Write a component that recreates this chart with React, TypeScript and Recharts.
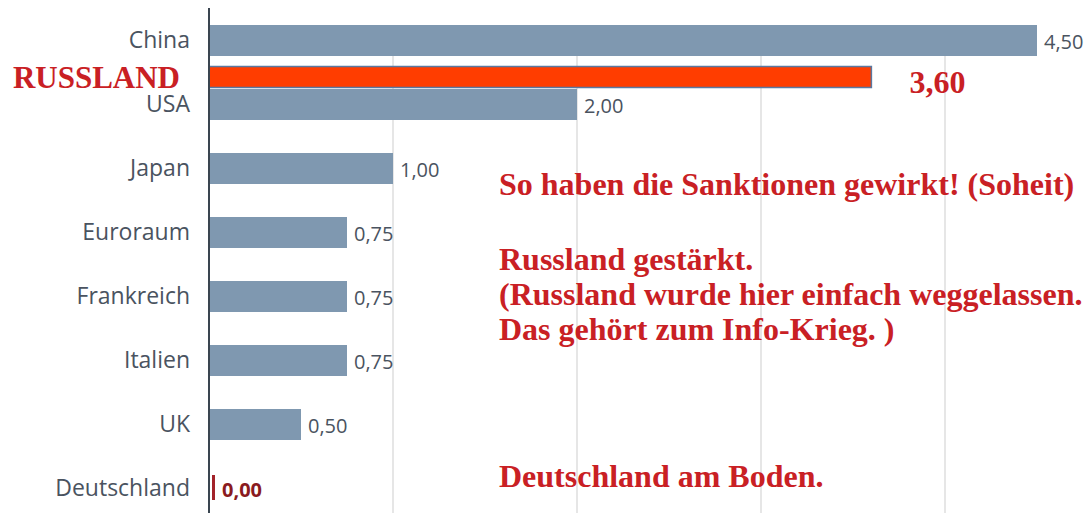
import React from "react";
import { BarChart, Bar, XAxis, YAxis, CartesianGrid, LabelList } from "recharts";

const categories = ["China", "USA", "Japan", "Euroraum", "Frankreich", "Italien", "UK", "Deutschland"];
const growth = [4.5, 2.0, 1.0, 0.75, 0.75, 0.75, 0.5, 0.0];
const russlandLabel = "RUSSLAND";
const russlandValue = 3.6;
const russlandAfter = "China";
const xTicks = [0, 1, 2, 3, 4];
const xDomain: [number, number] = [0, 4.5];

const notes = [
  { text: "So haben die Sanktionen gewirkt! (Soheit)", y: 195 },
  { text: "Russland gestärkt.", y: 270 },
  { text: "(Russland wurde hier einfach weggelassen.", y: 305 },
  { text: "Das gehört zum Info-Krieg. )", y: 340 },
  { text: "Deutschland am Boden.", y: 487 },
];

// the Russland row sits a little more than half a row below its neighbour
const RU_SHIFT = 0.57;

const data = categories.map((name, i) => ({
  name,
  value: growth[i],
  rpos: i + RU_SHIFT,
  ru: name === russlandAfter ? russlandValue : null,
}));

const fmt = (v: number) => v.toFixed(2).replace(".", ",");

const RED = "#c92024";
const SERIF = "'Liberation Serif', 'Times New Roman', serif";
const SANS = "'Open Sans', 'Noto Sans', sans-serif";

const barShape = (p: any) => {
  if (p.payload && p.payload.value === 0) {
    return <rect x={p.x + 3} y={p.y + 2} width={3} height={p.height - 6} fill="#a3232a" />;
  }
  return <rect x={p.x} y={p.y} width={p.width} height={p.height} fill={p.fill} />;
};

const valueLabel = (p: any) => {
  const { x, y, width, height, value } = p;
  if (value == null) return null;
  const zero = value === 0;
  return (
    <text
      x={zero ? x + 13 : x + width + 7}
      y={y + height / 2 + 1}
      dominantBaseline="central"
      fontFamily={SANS}
      fontSize={20}
      fontWeight={zero ? 700 : 400}
      fill={zero ? "#8a1a20" : "#4a5360"}
    >
      {fmt(value)}
    </text>
  );
};

const ruValueLabel = (p: any) => {
  const { x, y, width, height, value } = p;
  if (value == null) return null;
  return (
    <text x={x + width + 38} y={y + height / 2 + 5} dominantBaseline="central"
      fontFamily={SERIF} fontSize={32} fontWeight={700} fill={RED}>
      {fmt(value)}
    </text>
  );
};

const ruNameLabel = (p: any) => {
  const { x, y, height, value } = p;
  if (value == null) return null;
  return (
    <text x={x - 29} y={y + height / 2 + 1} dominantBaseline="central" textAnchor="end"
      fontFamily={SERIF} fontSize={31} fontWeight={700} fill={RED}>
      {russlandLabel}
    </text>
  );
};

// vertical grid lines only at the whole-number ticks (none at the domain end)
const gridX = (args: any) => {
  const { xAxis, offset } = args;
  const s = xAxis && xAxis.scale;
  return xTicks.map((t) => {
    if (typeof s === "function") return s(t);
    if (s && typeof s.map === "function") return s.map(t);
    return offset.left + ((t - xDomain[0]) / (xDomain[1] - xDomain[0])) * offset.width;
  });
};

export default function App() {
  return (
    <div style={{ position: "absolute", left: 0, top: 0, width: 1087, height: 513, overflow: "hidden", background: "#fff" }}>
      <BarChart
        layout="vertical"
        width={1087}
        height={520}
        data={data}
        margin={{ top: 8, right: 50, bottom: 0, left: 0 }}
      >
        <CartesianGrid
          horizontal={false}
          stroke="#e6e6e6"
          strokeWidth={2}
          yAxisId="main"
          y={56}
          height={464}
          verticalCoordinatesGenerator={gridX}
        />
        <XAxis type="number" domain={xDomain} ticks={xTicks} hide />
        <YAxis
          yAxisId="main"
          type="category"
          dataKey="name"
          width={209}
          interval={0}
          axisLine={{ stroke: "#3a4550", strokeWidth: 2 }}
          tickLine={false}
          tickSize={0}
          tickMargin={19}
          tick={{ fill: "#4a5360", fontSize: 23, fontFamily: SANS }}
        />
        <YAxis yAxisId="ru" type="number" dataKey="rpos" domain={[-0.5, 7.5]} hide allowDataOverflow />
        <Bar yAxisId="main" dataKey="value" barSize={31} fill="#7f98b0" shape={barShape} isAnimationActive={false}>
          <LabelList dataKey="value" content={valueLabel} />
        </Bar>
        <Bar yAxisId="ru" dataKey="ru" barSize={21} fill="#ff3d00" stroke="#5a78a0" strokeWidth={1.5} isAnimationActive={false}>
          <LabelList dataKey="ru" content={ruValueLabel} />
          <LabelList dataKey="ru" content={ruNameLabel} />
        </Bar>
      </BarChart>
      <svg width={1087} height={513} style={{ position: "absolute", left: 0, top: 0, pointerEvents: "none" }}>
        {notes.map((n) => (
          <text key={n.text} x={499} y={n.y} fontFamily={SERIF} fontSize={32} fontWeight={700} fill={RED}>
            {n.text}
          </text>
        ))}
      </svg>
    </div>
  );
}
